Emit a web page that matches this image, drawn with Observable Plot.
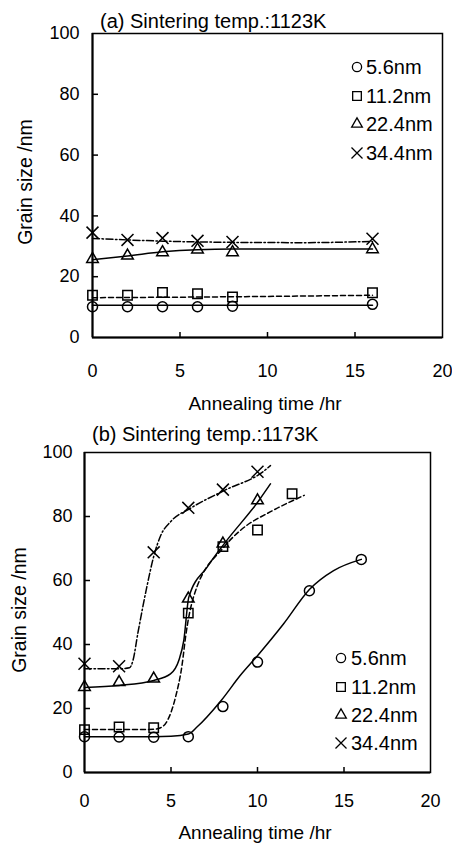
<!DOCTYPE html>
<html><head><meta charset="utf-8">
<script src="https://cdn.jsdelivr.net/npm/d3@7"></script>
<script src="https://cdn.jsdelivr.net/npm/@observablehq/plot@0.6"></script>
<style>
html,body{margin:0;padding:0;background:#fff;}
#wrap{position:relative;width:452px;height:843px;overflow:hidden;font-family:"Liberation Sans",Arial,sans-serif;color:#000;}
#wrap svg.plot{position:absolute;left:0;}
.abs{position:absolute;white-space:nowrap;line-height:1;}
.title{font-size:20px;transform:translateY(-50%);}
.xt{font-size:19px;transform:translate(-50%,-50%);}
.yt{font-size:19.5px;transform:translate(-50%,-50%) rotate(-90deg);}
.leg{font-size:20px;transform:translateY(-50%);}
.sym{position:absolute;overflow:visible;}
</style></head>
<body><div id="wrap"></div>
<script>
// ---- shared axis / legend data ----
const yTicks = [0, 20, 40, 60, 80, 100];
const xTicks = [0, 5, 10, 15, 20];
const innerYTicks = [20, 40, 60, 80];
const innerXTicks = [5, 10, 15];
const seriesLabels = ["5.6nm", "11.2nm", "22.4nm", "34.4nm"];
const seriesSymbols = ["circle", "square", "triangle", "times"];
const titleA = "(a) Sintering temp.:1123K";
const titleB = "(b) Sintering temp.:1173K";
const xTitle = "Annealing time /hr";
const yTitle = "Grain size /nm";

// ---- panel (a) 1123K: measured points ----
const timeA = [0, 2, 4, 6, 8, 16];
const a56  = [10.1, 10.1, 10.1, 10.1, 10.3, 10.9];
const a112 = [13.9, 13.9, 14.8, 14.4, 13.3, 14.7];
const a224 = [25.8, 26.9, 28.0, 28.9, 28.0, 29.0];
const a344 = [34.5, 32.1, 32.7, 31.8, 31.4, 32.5];

// ---- panel (a) fitted curves ----
const fitA56t  = [0, 16];
const fitA56v  = [10.6, 10.6];
const fitA112t = [0, 8, 16];
const fitA112v = [13.1, 13.4, 13.9];
const fitA224t = [0, 2, 4, 6, 8, 12, 16];
const fitA224v = [25.6, 26.8, 28.2, 28.9, 29.1, 29.1, 29.1];
const fitA344t = [0, 2, 4, 8, 12, 16];
const fitA344v = [32.6, 32.1, 31.7, 31.3, 31.2, 31.6];

// ---- panel (b) 1173K: measured points ----
const b56t  = [0, 2, 4, 6, 8, 10, 13, 16];
const b56v  = [11.2, 11.1, 11.0, 11.2, 20.6, 34.5, 56.8, 66.6];
const b112t = [0, 2, 4, 6, 8, 10, 12];
const b112v = [13.4, 14.2, 14.0, 49.8, 70.6, 75.8, 87.1];
const b224t = [0, 2, 4, 6, 8, 10];
const b224v = [26.7, 28.2, 29.3, 54.3, 71.5, 85.0];
const b344t = [0, 2, 4, 6, 8, 10];
const b344v = [34.0, 33.2, 68.8, 82.7, 88.4, 94.0];

// ---- panel (b) fitted curves ----
const fitB56t  = [0, 2, 4, 5, 6, 6.5, 7.9, 9, 10, 11.5, 13, 14.4, 16];
const fitB56v  = [11.2, 11.2, 11.2, 11.3, 12.0, 14.2, 22.5, 30.3, 36.5, 46.4, 57.2, 63.1, 66.6];
const fitB112t = [0, 2, 4, 4.4, 4.8, 5.26, 5.65, 5.84, 6.3, 8.05, 9.0, 10.9, 12.7];
const fitB112v = [13.4, 13.4, 13.5, 14.0, 16.3, 23.5, 34.0, 42.3, 54.8, 70.4, 75.6, 81.9, 86.6];
const fitB224t = [0, 2, 4, 4.97, 5.45, 5.74, 6.03, 7.09, 8.15, 10.08, 10.75];
const fitB224v = [26.6, 27.2, 28.75, 30.8, 35.0, 41.3, 54.8, 64.2, 72.0, 85.0, 90.2];
const fitB344t = [0, 2, 2.6, 2.8, 3.1, 3.6, 4.0, 4.4, 5.0, 6.1, 8.15, 10.27, 10.75];
const fitB344v = [32.4, 32.4, 32.7, 35.0, 44.0, 57.9, 67.5, 74.0, 78.5, 82.5, 88.3, 93.8, 95.9];

// ---- styles ----
const seriesR = [5.0, 5.3, 4.3, 5.5];
const seriesDash = [undefined, "5,3", undefined, "7,2.5,1.5,2.5"];
const FONT = "'Liberation Sans', Arial, sans-serif";

const pts = (t, v) => t.map((x, i) => ({t: x, v: v[i]}));
const wrap = document.getElementById("wrap");

function panel(cfg) {
  const pw = cfg.width - cfg.ml - cfg.mr;
  const ph = cfg.height - cfg.mt - cfg.mb;
  const marks = [
    Plot.frame({stroke: "#000", strokeWidth: 1.5}),
    Plot.ruleX([0], {stroke: "#000", strokeWidth: 2}),
    Plot.ruleY([0], {stroke: "#000", strokeWidth: 2}),
    Plot.tickY(innerYTicks, {y: d => d, stroke: "#000", strokeWidth: 1.5, insetRight: pw - 6}),
    Plot.tickX(innerXTicks, {x: d => d, stroke: "#000", strokeWidth: 1.5, insetTop: ph - 5})
  ];
  cfg.fits.forEach((f, i) => marks.push(Plot.line(pts(f[0], f[1]), {
    x: "t", y: "v", curve: "monotone-x", stroke: "#000", strokeWidth: 1.5,
    strokeDasharray: seriesDash[i]
  })));
  cfg.meas.forEach((m, i) => marks.push(Plot.dot(pts(m[0], m[1]), {
    x: "t", y: "v", symbol: seriesSymbols[i], r: seriesR[i],
    stroke: "#000", fill: "none", strokeWidth: 1.5
  })));
  const svg = Plot.plot({
    width: cfg.width, height: cfg.height,
    marginLeft: cfg.ml, marginRight: cfg.mr, marginTop: cfg.mt, marginBottom: cfg.mb,
    style: {fontFamily: FONT, fontSize: "18px", color: "#000", background: "transparent"},
    x: {domain: [0, 20], ticks: xTicks, tickSize: 0, tickPadding: cfg.xpad, label: null},
    y: {domain: [0, 100], ticks: yTicks, tickSize: 0, tickPadding: cfg.ypad, label: null},
    marks
  });
  svg.classList.add("plot");
  svg.style.top = cfg.top + "px";
  wrap.appendChild(svg);
}

function text(str, x, y, cls) {
  const d = document.createElement("div");
  d.className = "abs " + cls;
  d.textContent = str;
  d.style.left = x + "px";
  d.style.top = y + "px";
  wrap.appendChild(d);
}

function legend(symX, textX, rowsY) {
  seriesLabels.forEach((lab, i) => {
    const s = d3.create("svg").attr("class", "sym").attr("width", 14).attr("height", 14)
      .style("left", (symX - 7) + "px").style("top", (rowsY[i] - 7) + "px");
    const typ = {circle: d3.symbolCircle, square: d3.symbolSquare, triangle: d3.symbolTriangle, times: d3.symbolTimes}[seriesSymbols[i]];
    s.append("path").attr("transform", "translate(7,7)")
      .attr("d", d3.symbol(typ, Math.PI * seriesR[i] * seriesR[i] * 0.85)())
      .attr("fill", "none").attr("stroke", "#000").attr("stroke-width", 1.3);
    wrap.appendChild(s.node());
    text(lab, textX, rowsY[i], "leg");
  });
}

panel({
  top: 0, width: 452, height: 420, ml: 92, mr: 10, mt: 33, mb: 83, xpad: 27, ypad: 13,
  meas: [[timeA, a56], [timeA, a112], [timeA, a224], [timeA, a344]],
  fits: [[fitA56t, fitA56v], [fitA112t, fitA112v], [fitA224t, fitA224v], [fitA344t, fitA344v]]
});
panel({
  top: 420, width: 452, height: 423, ml: 84, mr: 22, mt: 32, mb: 71, xpad: 22, ypad: 12,
  meas: [[b56t, b56v], [b112t, b112v], [b224t, b224v], [b344t, b344v]],
  fits: [[fitB56t, fitB56v], [fitB112t, fitB112v], [fitB224t, fitB224v], [fitB344t, fitB344v]]
});

text(titleA, 100, 21, "title");
text(titleB, 92, 434, "title");
text(xTitle, 265, 403, "xt");
text(xTitle, 255, 832, "xt");
text(yTitle, 26, 182, "yt");
text(yTitle, 20, 610, "yt");
legend(357, 366, [66.7, 95.7, 124, 152.7]);
legend(340.5, 351, [658.3, 686.7, 715, 743.3]);
</script>
</body></html>
